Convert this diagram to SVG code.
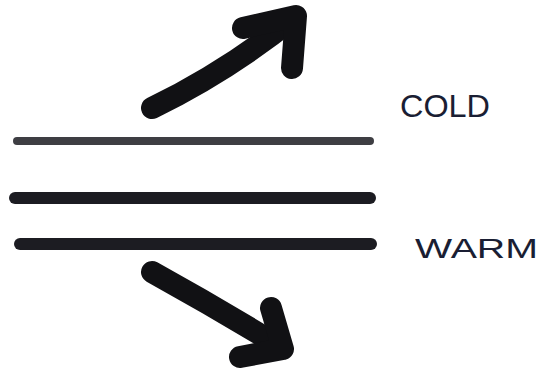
<svg xmlns="http://www.w3.org/2000/svg" width="548" height="375" viewBox="0 0 548 375">
<style>
.ln{stroke:#1c1c22;stroke-linecap:round;fill:none}
.ar{stroke:#111114;stroke-width:22;stroke-linecap:round;stroke-linejoin:round;fill:none}
.lb{font-family:"Liberation Sans",Arial,sans-serif;font-weight:normal;fill:#1a1e33}
</style>
<rect width="548" height="375" fill="#ffffff"/>
<g id="layers">
<line class="ln" x1="17" y1="141" x2="370" y2="141" stroke-width="8" opacity="0.85"/>
<line class="ln" x1="15" y1="198" x2="370" y2="198" stroke-width="12"/>
<line class="ln" x1="20" y1="244" x2="371" y2="244" stroke-width="12"/>
</g>
<g id="connectors">
<g id="arrow-up">
<path class="ar" d="M152,108 C185,92 235,65 294,18"/>
<path class="ar" d="M243,28 L296,16 L292,68"/>
</g>
<g id="arrow-down">
<path class="ar" d="M152,272 C190,293 240,322 281,347"/>
<path class="ar" d="M271,308 L283,349 L240,357"/>
</g>
</g>
<g id="cold">
<text class="lb" x="400" y="117" font-size="32" textLength="90" lengthAdjust="spacingAndGlyphs">COLD</text>
</g>
<g id="warm">
<text class="lb" x="415" y="258" font-size="28" textLength="123" lengthAdjust="spacingAndGlyphs">WARM</text>
</g>
</svg>
